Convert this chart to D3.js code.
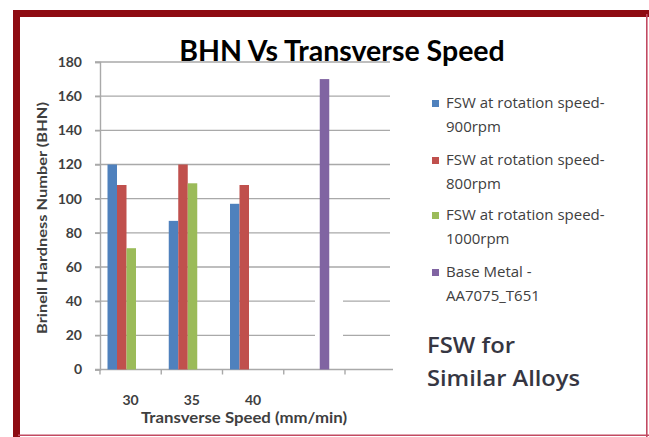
<!DOCTYPE html>
<html>
<head>
<meta charset="utf-8">
<script src="https://cdn.jsdelivr.net/npm/d3@7"></script>
<style>
  body { margin: 0; background: #fff; }
  svg { display: block; }
</style>
</head>
<body>
<svg id="chart" width="649" height="437" font-family="Lato, 'Open Sans', sans-serif"></svg>
<script>
// Hardness readings per transverse speed (mm/min); the last slot holds the base metal
const categories = ["30", "35", "40", ""];
const rpm900 = [120, 87, 97, null];
const rpm800 = [108, 120, 108, null];
const rpm1000 = [71, 109, null, null];
const baseMetal = [null, null, null, 170];
const seriesLabels = [
  ["FSW at rotation speed-", "900rpm"],
  ["FSW at rotation speed-", "800rpm"],
  ["FSW at rotation speed-", "1000rpm"],
  ["Base Metal -", "AA7075_T651"]
];
const seriesColors = ["#4F81BD", "#C0504D", "#9BBB59", "#8064A2"];
const yTicks = [0, 20, 40, 60, 80, 100, 120, 140, 160, 180];

const series = [rpm900, rpm800, rpm1000, baseMetal];
const svg = d3.select("#chart");

// Frame: heavy top/left edge, thin right/bottom edge
svg.append("rect").attr("x", 13).attr("y", 10).attr("width", 636).attr("height", 7).attr("fill", "#8E0B12");
svg.append("rect").attr("x", 13).attr("y", 10).attr("width", 7).attr("height", 427).attr("fill", "#8E0B12");
svg.append("line").attr("x1", 646.8).attr("x2", 646.8).attr("y1", 14).attr("y2", 437)
  .attr("stroke", "#C24A62").attr("stroke-width", 1.6);
svg.append("line").attr("x1", 18).attr("x2", 649).attr("y1", 435.3).attr("y2", 435.3)
  .attr("stroke", "#C24A62").attr("stroke-width", 1.6);

// Scales
const y = d3.scaleLinear().domain([0, 180]).range([369.5, 62]);
const x = d3.scaleBand().domain(d3.range(categories.length)).range([100, 345]).padding(0);
const xs = d3.scaleBand().domain(d3.range(series.length)).range([7.5, 45.5]).padding(0);

const gridLeft = 95, gridRight = 390, axisRight = 393;

// Gridlines
svg.append("g").selectAll("line").data(yTicks.filter(v => v > 0)).join("line")
  .attr("x1", gridLeft).attr("x2", gridRight)
  .attr("y1", d => y(d)).attr("y2", d => y(d))
  .attr("stroke", "#A9A9A9").attr("stroke-width", 1.4);

// White patch behind the base-metal bar (gridlines interrupted there)
svg.append("rect").attr("x", 315).attr("y", 282).attr("width", 28).attr("height", 76).attr("fill", "#fff");

// Y axis
const yAxis = svg.append("g").attr("transform", "translate(100,0)")
  .call(d3.axisLeft(y).tickValues(yTicks).tickSize(5).tickPadding(13));
yAxis.attr("font-family", "Lato, sans-serif").attr("font-size", 14).attr("font-weight", "bold");
yAxis.select(".domain").attr("stroke", "#A9A9A9").attr("stroke-width", 1.4);
yAxis.selectAll(".tick line").attr("stroke", "#A9A9A9").attr("stroke-width", 1.4);
yAxis.selectAll(".tick text").attr("fill", "#3f3f3f");

// X axis line and boundary ticks
svg.append("line").attr("x1", gridLeft).attr("x2", axisRight)
  .attr("y1", y(0)).attr("y2", y(0)).attr("stroke", "#A9A9A9").attr("stroke-width", 1.4);
svg.append("g").selectAll("line").data(d3.range(categories.length + 1)).join("line")
  .attr("x1", d => 100 + d * x.bandwidth()).attr("x2", d => 100 + d * x.bandwidth())
  .attr("y1", y(0)).attr("y2", y(0) + 5)
  .attr("stroke", "#A9A9A9").attr("stroke-width", 1.4);

const xAxis = svg.append("g").attr("transform", `translate(0,${y(0)})`)
  .call(d3.axisBottom(x).tickSize(0).tickPadding(26).tickFormat(i => categories[i]));
xAxis.attr("font-family", "Lato, sans-serif").attr("font-size", 14).attr("font-weight", "bold");
xAxis.select(".domain").remove();
xAxis.selectAll(".tick text").attr("fill", "#3f3f3f");

// Bars
series.forEach((vals, s) => {
  svg.append("g").selectAll("rect")
    .data(vals.map((v, i) => ({ v, i })).filter(d => d.v != null))
    .join("rect")
    .attr("x", d => x(d.i) + xs(s))
    .attr("width", xs.bandwidth())
    .attr("y", d => y(d.v))
    .attr("height", d => y(0) - y(d.v))
    .attr("fill", seriesColors[s]);
});

// Title
svg.append("text").attr("x", 342).attr("y", 61).attr("text-anchor", "middle")
  .attr("font-size", 28.5).attr("font-weight", "bold").attr("fill", "#000")
  .text("BHN Vs Transverse Speed");

// Axis titles
svg.append("text").attr("transform", "translate(47,218) rotate(-90)")
  .attr("text-anchor", "middle").attr("font-size", 13).attr("font-weight", "bold").attr("fill", "#3f3f3f")
  .attr("textLength", 232).attr("lengthAdjust", "spacingAndGlyphs")
  .text("Brinell Hardness Number (BHN)");
svg.append("text").attr("x", 244).attr("y", 423).attr("text-anchor", "middle")
  .attr("font-size", 15).attr("font-weight", "bold").attr("fill", "#3f3f3f")
  .attr("textLength", 206).attr("lengthAdjust", "spacingAndGlyphs")
  .text("Transverse Speed (mm/min)");

// Legend
const legendTops = [103, 160, 215, 272];
const legend = svg.append("g").attr("font-family", "'Open Sans', sans-serif").attr("font-size", 15);
seriesLabels.forEach((lines, s) => {
  const g = legend.append("g").attr("transform", `translate(0,${legendTops[s]})`);
  g.append("rect").attr("x", 432).attr("y", -3).attr("width", 7).attr("height", 7).attr("fill", seriesColors[s]);
  lines.forEach((t, k) => {
    g.append("text").attr("x", 446).attr("y", 5 + k * 24).attr("fill", "#404040").text(t);
  });
});

// Annotation
const note = svg.append("g").attr("font-family", "'Open Sans', sans-serif")
  .attr("font-size", 22).attr("font-weight", 600).attr("fill", "#363642");
note.append("text").attr("x", 427).attr("y", 353)
  .attr("textLength", 88).attr("lengthAdjust", "spacingAndGlyphs").text("FSW for");
note.append("text").attr("x", 427).attr("y", 386)
  .attr("textLength", 153).attr("lengthAdjust", "spacingAndGlyphs").text("Similar Alloys");
</script>
</body>
</html>
